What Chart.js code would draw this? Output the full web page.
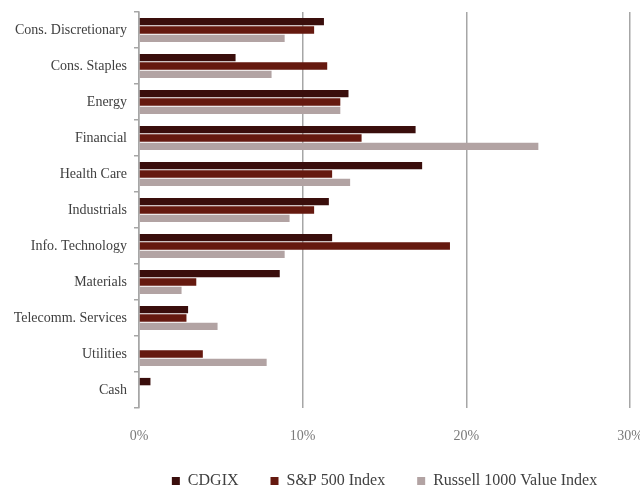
<!DOCTYPE html>
<html>
<head>
<meta charset="utf-8">
<script src="https://cdn.jsdelivr.net/npm/chart.js@4"></script>
<style>
html,body{margin:0;padding:0;background:#fff;}
#wrap{width:640px;height:489px;position:relative;}
</style>
</head>
<body>
<div id="wrap"><canvas id="c"></canvas></div>
<script>
const categories = ["Cons. Discretionary","Cons. Staples","Energy","Financial","Health Care","Industrials","Info. Technology","Materials","Telecomm. Services","Utilities","Cash"];
const cdgix   = [11.3, 5.9, 12.8, 16.9, 17.3, 11.6, 11.8, 8.6, 3.0, 0, 0.7];
const sp500   = [10.7, 11.5, 12.3, 13.6, 11.8, 10.7, 19.0, 3.5, 2.9, 3.9, 0];
const russell = [8.9, 8.1, 12.3, 24.4, 12.9, 9.2, 8.9, 2.6, 4.8, 7.8, 0];
const seriesNames = ["CDGIX", "S&P 500 Index", "Russell 1000 Value Index"];
const xTicks = [0, 10, 20, 30];

const FONT = "'Liberation Serif', 'Times New Roman', serif";
const gridGray = '#a6a6a6';

const legendFix = {
  id: 'legendFix',
  beforeLayout(chart) {
    const lg = chart.legend;
    if (lg && !lg._patched) {
      const orig = lg.fit;
      lg.fit = function () {
        this.maxWidth = chart.width;
        orig.call(this);
        this.height -= 10;
      };
      lg._patched = true;
    }
  }
};

new Chart(document.getElementById('c'), {
  type: 'bar',
  data: {
    labels: categories,
    datasets: [
      { label: seriesNames[0], data: cdgix, backgroundColor: '#3a0e0c' },
      { label: seriesNames[1], data: sp500, backgroundColor: '#65190f' },
      { label: seriesNames[2], data: russell, backgroundColor: '#b2a3a3' }
    ]
  },
  options: {
    indexAxis: 'y',
    responsive: true,
    maintainAspectRatio: false,
    animation: false,
    categoryPercentage: 0.7,
    barPercentage: 0.88,
    layout: { padding: { top: 12, left: 0, right: 10, bottom: 0 } },
    plugins: {
      tooltip: { enabled: false },
      legend: {
        position: 'bottom',
        fullSize: false,
        labels: {
          boxWidth: 8,
          boxHeight: 8,
          padding: 32,
          color: '#404040',
          font: { family: FONT, size: 16 }
        }
      }
    },
    scales: {
      x: {
        type: 'linear',
        min: 0,
        max: 30,
        afterBuildTicks(scale) { scale.ticks = xTicks.map(v => ({ value: v })); },
        afterFit(scale) {
          scale.height = 33;
          scale.paddingLeft = 0;
          scale.paddingRight = 0;
          scale._computeLabelArea = function () { return undefined; };
        },
        ticks: {
          padding: 20,
          color: '#7a7a7a',
          font: { family: FONT, size: 14 },
          callback: v => v + '%'
        },
        grid: { color: gridGray, lineWidth: 1.5, drawTicks: false },
        border: { display: false }
      },
      y: {
        afterFit(scale) { scale.width = 139; scale.paddingTop = 0; scale.paddingBottom = 0; },
        ticks: {
          padding: 7,
          color: '#404040',
          font: { family: FONT, size: 14 }
        },
        grid: { drawOnChartArea: false, drawTicks: true, tickLength: 5, color: gridGray, lineWidth: 1.5 },
        border: { display: true, color: gridGray, width: 1.5 }
      }
    }
  },
  plugins: [legendFix]
});
</script>
</body>
</html>
